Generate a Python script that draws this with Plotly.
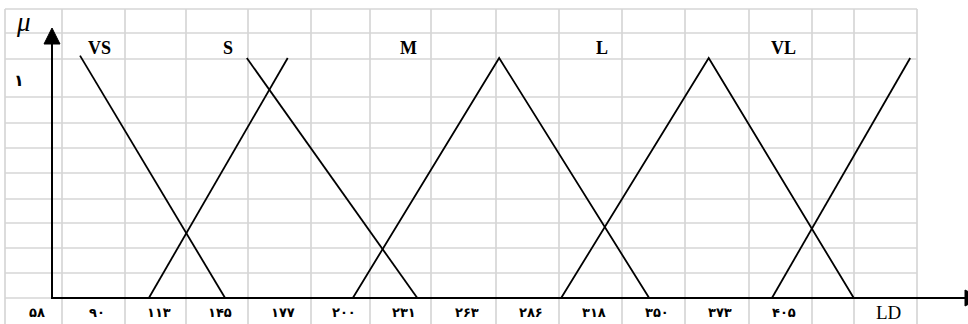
import plotly.graph_objects as go

# membership functions: x in grid-column units, mu = membership degree
vs_x = [1.21, 3.55]
vs_mu = [1.01, 0]
s_rise_x = [2.32, 4.56]
s_rise_mu = [0, 1.0]
s_fall_x = [3.90, 6.65]
s_fall_mu = [1.0, 0]
m_x = [5.61, 7.97, 10.39]
m_mu = [0, 1, 0]
l_x = [8.97, 11.35, 13.69]
l_mu = [0, 1, 0]
vl_x = [12.37, 14.60]
vl_mu = [0, 1]

set_names = ['VS', 'S', 'M', 'L', 'VL']
tick_labels = ['۵۸', '۹۰', '۱۱۳', '۱۴۵', '۱۷۷', '۲۰۰', '۲۳۱', '۲۶۳', '۲۸۶',
               '۳۱۸', '۳۵۰', '۳۷۳', '۴۰۵', '', 'LD']


# pixel -> axis units helpers (table picture layout)
def X(px):
    return (px - 5) / 62.0


def Y(py):
    return (298 - py) / 240.0


col_edges = [5, 62, 125, 186, 248, 311, 370, 431, 496, 559, 622, 685, 749, 812, 854, 917]
row_edges = [9, 33, 59, 97, 123, 148, 173, 199, 223, 248, 273, 298]
set_label_px = [99, 228, 408, 602, 783]

fig = go.Figure()
for xs, ys in [(vs_x, vs_mu), (s_rise_x, s_rise_mu), (s_fall_x, s_fall_mu),
               (m_x, m_mu), (l_x, l_mu), (vl_x, vl_mu)]:
    fig.add_trace(go.Scatter(x=xs, y=ys, mode='lines',
                             line=dict(color='black', width=1.8),
                             showlegend=False, hoverinfo='skip'))

shapes = []
grid = dict(color='#d6d6d6', width=1.7)
for c in col_edges:
    shapes.append(dict(type='line', xref='x', yref='y', x0=X(c), x1=X(c),
                       y0=Y(9), y1=Y(330), line=grid, layer='below'))
for r in row_edges:
    shapes.append(dict(type='line', xref='x', yref='y', x0=X(5), x1=X(917),
                       y0=Y(r), y1=Y(r), line=grid, layer='below'))

# axes with arrows
axis = dict(color='black', width=2)
shapes.append(dict(type='line', xref='x', yref='y', x0=X(52), x1=X(52),
                   y0=Y(298), y1=Y(43), line=axis))
shapes.append(dict(type='line', xref='x', yref='y', x0=X(51), x1=X(965),
                   y0=Y(298), y1=Y(298), line=axis))
shapes.append(dict(type='path', xref='x', yref='y',
                   path=f'M {X(44)},{Y(44)} L {X(60)},{Y(44)} L {X(52)},{Y(28)} Z',
                   fillcolor='black', line=dict(color='black', width=1)))
shapes.append(dict(type='path', xref='x', yref='y',
                   path=f'M {X(965)},{Y(290)} L {X(965)},{Y(306)} L {X(981)},{Y(298)} Z',
                   fillcolor='black', line=dict(color='black', width=1)))

ann = []
serif = 'Liberation Serif, Times New Roman, serif'
for name, px in zip(set_names, set_label_px):
    ann.append(dict(x=X(px), y=Y(48), xref='x', yref='y', text=f'<b>{name}</b>',
                    showarrow=False, font=dict(family=serif, size=18, color='black')))

for i, lab in enumerate(tick_labels):
    if not lab:
        continue
    cx = (col_edges[i] + col_edges[i + 1]) / 2 + 3
    if lab == 'LD':
        ann.append(dict(x=X(cx), y=Y(312), xref='x', yref='y', text='LD', showarrow=False,
                        font=dict(family=serif, size=19, color='black')))
    else:
        ann.append(dict(x=X(cx), y=Y(312), xref='x', yref='y', text=f'<b>{lab}</b>',
                        showarrow=False,
                        font=dict(family='DejaVu Sans', size=13, color='black')))

ann.append(dict(x=X(23), y=Y(22), xref='x', yref='y', text='<i>μ</i>', showarrow=False,
                font=dict(family=serif, size=27, color='black')))
ann.append(dict(x=X(19), y=Y(80), xref='x', yref='y', text='<b>۱</b>', showarrow=False,
                font=dict(family='DejaVu Sans', size=16, color='black')))

fig.update_layout(
    width=968, height=324, autosize=False,
    margin=dict(l=0, r=0, t=0, b=0),
    paper_bgcolor='white', plot_bgcolor='white',
    xaxis=dict(range=[X(0), X(968)], visible=False, fixedrange=True),
    yaxis=dict(range=[Y(324), Y(0)], visible=False, fixedrange=True),
    shapes=shapes, annotations=ann,
)

fig.write_html('out.html', config={'displayModeBar': False},
               post_script="document.body.style.margin='0';document.body.style.overflow='hidden';")
